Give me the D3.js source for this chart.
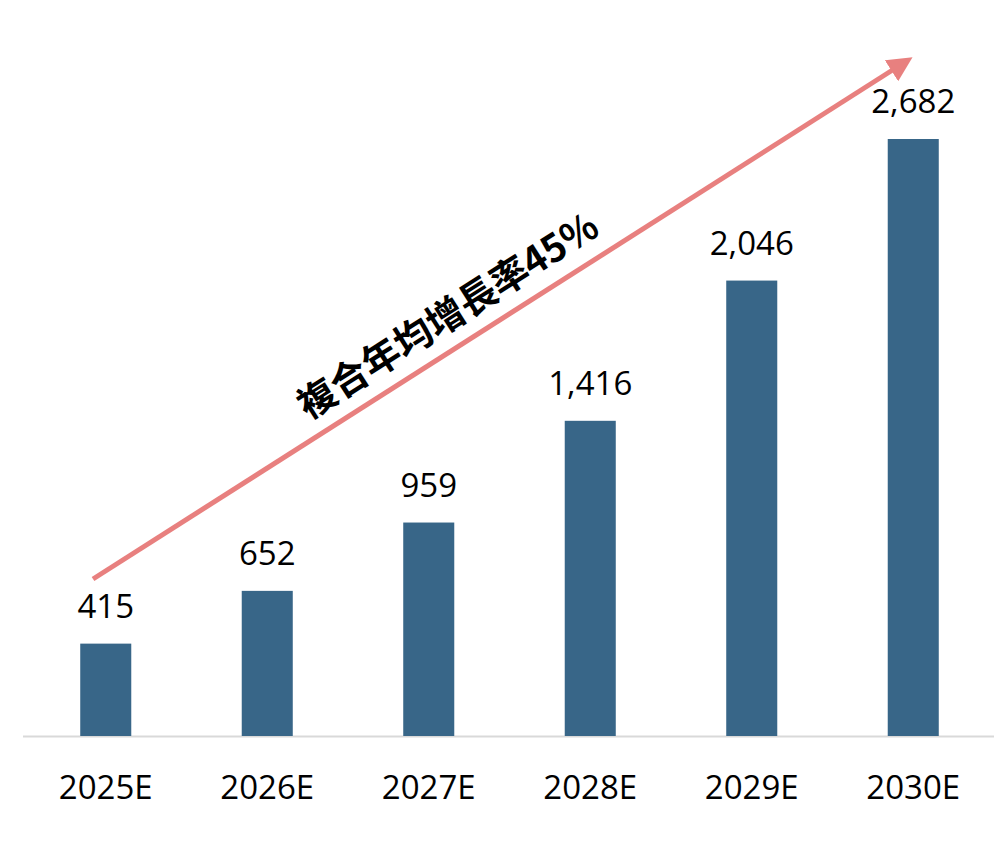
<!DOCTYPE html>
<html>
<head>
<meta charset="utf-8">
<script src="https://cdn.jsdelivr.net/npm/d3@7"></script>
<style>
  body { margin: 0; background: #fff; }
  text { font-family: "Open Sans", "Noto Sans", sans-serif; fill: #000; }
</style>
</head>
<body>
<div id="chart"></div>
<script>
// Chart data
const years = ["2025E", "2026E", "2027E", "2028E", "2029E", "2030E"];
const values = [415, 652, 959, 1416, 2046, 2682];
const cagrLabel = "複合年均增長率45%";

const width = 1000, height = 847;
const baseline = 736;

const svg = d3.select("#chart")
    .append("svg")
    .attr("width", width)
    .attr("height", height);

const x = d3.scaleBand()
    .domain(years)
    .range([25, 994])
    .paddingInner(0.684)
    .paddingOuter(0.342);

const y = d3.scaleLinear()
    .domain([0, 2682])
    .range([baseline, 139]);

// Arrow marker
svg.append("defs").append("marker")
    .attr("id", "arrowhead")
    .attr("viewBox", "0 0 10 10")
    .attr("refX", 5)
    .attr("refY", 5)
    .attr("markerWidth", 5)
    .attr("markerHeight", 5)
    .attr("markerUnits", "strokeWidth")
    .attr("orient", "auto")
    .append("path")
    .attr("d", "M0,0L10,5L0,10z")
    .attr("fill", "#e8807f");

// Baseline
svg.append("line")
    .attr("x1", 23).attr("x2", 994)
    .attr("y1", baseline + 0.5).attr("y2", baseline + 0.5)
    .attr("stroke", "#d9d9d9")
    .attr("stroke-width", 2);

// Bars
svg.append("g")
    .selectAll("rect")
    .data(values)
    .join("rect")
    .attr("x", (d, i) => x(years[i]))
    .attr("y", d => y(d))
    .attr("width", x.bandwidth())
    .attr("height", d => baseline - y(d))
    .attr("fill", "#386688");

// Value labels
svg.append("g")
    .selectAll("text")
    .data(values)
    .join("text")
    .attr("x", (d, i) => x(years[i]) + x.bandwidth() / 2)
    .attr("y", d => y(d) - 26)
    .attr("text-anchor", "middle")
    .style("font-size", "33px")
    .text(d => d3.format(",")(d));

// Category labels
svg.append("g")
    .selectAll("text")
    .data(years)
    .join("text")
    .attr("x", d => x(d) + x.bandwidth() / 2)
    .attr("y", 799)
    .attr("text-anchor", "middle")
    .style("font-size", "33px")
    .text(d => d);

// Growth arrow
const x0 = 93, y0 = 579, x1 = 902, y1 = 64;
svg.append("line")
    .attr("x1", x0).attr("y1", y0)
    .attr("x2", x1).attr("y2", y1)
    .attr("stroke", "#e8807f")
    .attr("stroke-width", 5)
    .attr("marker-end", "url(#arrowhead)");

const angle = Math.atan2(y1 - y0, x1 - x0) * 180 / Math.PI;
svg.append("text")
    .attr("transform", `translate(455,327) rotate(${angle})`)
    .attr("text-anchor", "middle")
    .style("font-family", "'Noto Sans CJK TC', 'Noto Sans CJK SC', sans-serif")
    .style("font-weight", "bold")
    .style("font-size", "38px")
    .text(cagrLabel);
</script>
</body>
</html>
